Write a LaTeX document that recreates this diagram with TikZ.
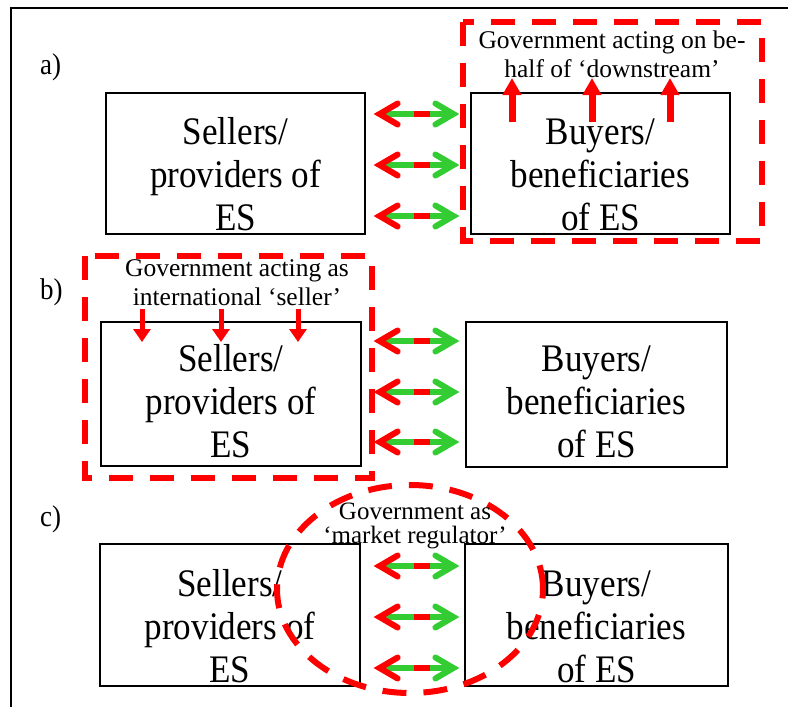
\documentclass[tikz,border=0pt]{standalone}
\usepackage{fontspec}
\setmainfont{Liberation Serif}
% box captions are set slightly narrow and tall
\newfontfamily\tallserif[FakeStretch=0.9]{Liberation Serif}
\usetikzlibrary{arrows.meta}
\definecolor{esred}{RGB}{255,0,0}
\definecolor{esgreen}{RGB}{51,204,51}
\begin{document}
\begin{tikzpicture}[x=1pt,y=-1pt,
  frame/.style={line width=1.5pt, draw=black},
  esbox/.style={draw=black, line width=1.3pt, inner sep=0pt},
  boxtext/.style={align=center, inner sep=0pt, anchor=south, font=\tallserif\fontsize{39pt}{43pt}\selectfont},
  govtext/.style={align=center, inner sep=0pt, anchor=south, font=\fontsize{25.5pt}{29pt}\selectfont},
  tag/.style={anchor=base west, inner sep=0pt, font=\tallserif\fontsize{30pt}{32pt}\selectfont},
  govzone/.style={draw=esred, line width=6pt, dash pattern=on 24pt off 17pt},
  flow/.style={draw=esgreen, line width=6pt,
    {Straight Barb[color=esred, length=18pt, width=21pt, line cap=round, line join=miter]}-{Straight Barb[length=18pt, width=21pt, line cap=round, line join=miter]}},
  flowmid/.style={draw=esred, line width=6pt},
  govup/.style={draw=esred, line width=7pt, -{Triangle[length=17pt, width=18pt]}},
  govdown/.style={draw=esred, line width=5pt, -{Triangle[length=13pt, width=17pt]}},
]
\useasboundingbox (0,0) rectangle (788,707);

% outer frame (top and left edges)
\draw[frame] (11,707) -- (11,8) -- (788,8);

% row labels
\node[tag] (la) at (40,74) {a)};
\node[tag] (lb) at (40,299) {b)};
\node[tag] (lc) at (40,526) {c)};

% boxes
\node[esbox, minimum width=259pt, minimum height=141pt] (aL) at (235.5,163.5) {};
\node[esbox, minimum width=259pt, minimum height=141pt] (aR) at (600.5,163.5) {};
\node[esbox, minimum width=260pt, minimum height=144pt] (bL) at (231,394) {};
\node[esbox, minimum width=261pt, minimum height=145pt] (bR) at (596.5,394.5) {};
\node[esbox, minimum width=260pt, minimum height=142pt] (cL) at (230,615) {};
\node[esbox, minimum width=263pt, minimum height=142pt] (cR) at (596.5,615) {};

% box texts
\node[boxtext] (aLt) at (235.5,231) {Sellers/\\providers of\\ES};
\node[boxtext] (aRt) at (600.5,231) {Buyers/\\beneficiaries\\of ES};
\node[boxtext] (bLt) at (231,458) {Sellers/\\providers of\\ES};
\node[boxtext] (bRt) at (596.5,458) {Buyers/\\beneficiaries\\of ES};
\node[boxtext] (cLt) at (230,683) {Sellers/\\providers of\\ES};
\node[boxtext] (cRt) at (596.5,683) {Buyers/\\beneficiaries\\of ES};

% government zones
\draw[govzone] (463,22) rectangle (762,241);
\draw[govzone] (85,256) rectangle (372,478);
\draw[govzone] (410,589) ellipse [x radius=133pt, y radius=104pt];

% government texts
\node[govtext] (ga) at (612,78) {Government acting on be-\\half of ‘downstream’};
\node[govtext] (gb) at (237,306) {Government acting as\\international ‘seller’};
\node[govtext, font=\fontsize{25pt}{24pt}\selectfont] (gc) at (415,549.5) {Government as\\‘market regulator’};

% government influence arrows
\foreach \x in {512,592,670} \draw[govup] (\x,122) -- (\x,78);
\foreach \x in {142,221,298} \draw[govdown] (\x,309) -- (\x,342);

% two-way flows between sellers and buyers
\foreach \y in {114,165,216} {
  \draw[flow, shorten <=8pt, shorten >=11pt] (aL.east |- 0,\y) -- (aR.west |- 0,\y);
  \draw[flowmid, shorten <=48pt, shorten >=40pt] (aL.east |- 0,\y) -- (aR.west |- 0,\y);
}
\foreach \y in {341,392,442} {
  \draw[flow, shorten <=12pt, shorten >=6pt] (bL.east |- 0,\y) -- (bR.west |- 0,\y);
  \draw[flowmid, shorten <=52pt, shorten >=35pt] (bL.east |- 0,\y) -- (bR.west |- 0,\y);
}
\foreach \y in {566,617,668} {
  \draw[flow, shorten <=13pt, shorten >=5pt] (cL.east |- 0,\y) -- (cR.west |- 0,\y);
  \draw[flowmid, shorten <=53pt, shorten >=34pt] (cL.east |- 0,\y) -- (cR.west |- 0,\y);
}
\end{tikzpicture}
\end{document}
